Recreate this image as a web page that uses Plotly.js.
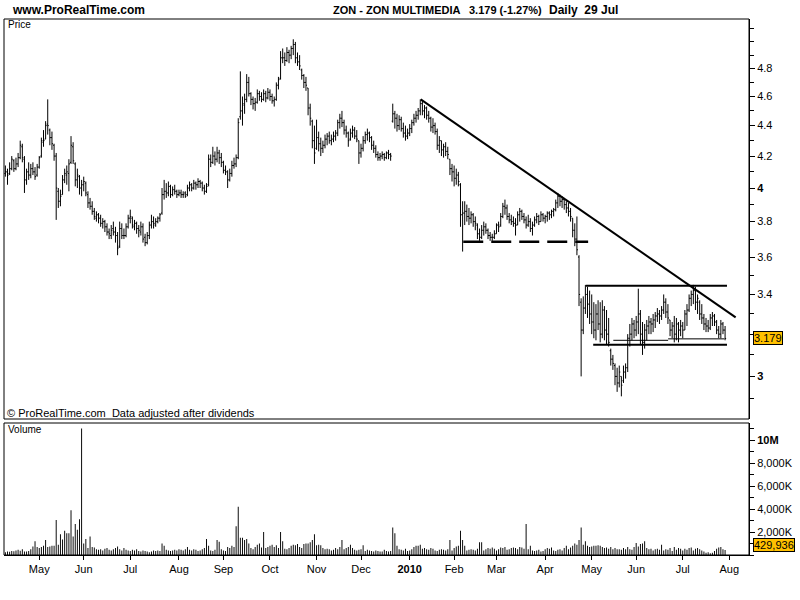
<!DOCTYPE html>
<html><head><meta charset="utf-8">
<script src="https://cdn.plot.ly/plotly-3.0.1.min.js"></script>
<style>html,body{margin:0;padding:0;background:#fff}#chart{width:800px;height:600px}</style>
</head><body><div id="chart"></div>
<script>
// ZON - ZON MULTIMEDIA, daily bars from 2009-04-09 to 2010-07-29 (weekdays)
const startDate = "2009-04-09";

const openP = [
4.09,4.10,4.09,4.12,4.17,4.12,4.15,4.19,4.26,4.18,
4.05,4.10,4.08,4.12,4.10,4.08,4.13,4.20,4.29,4.31,
4.41,4.37,4.32,4.27,4.20,3.98,3.92,3.96,4.05,4.08,
4.09,4.16,4.26,4.15,4.05,4.07,4.00,4.02,4.03,3.96,
3.91,3.89,3.86,3.82,3.84,3.82,3.79,3.80,3.77,3.74,
3.72,3.76,3.74,3.72,3.66,3.76,3.72,3.72,3.77,3.82,
3.82,3.77,3.79,3.76,3.74,3.77,3.71,3.68,3.72,3.78,
3.80,3.78,3.80,3.82,3.85,3.96,3.98,3.97,4.01,3.96,
3.99,3.98,3.96,3.97,3.96,3.97,3.96,4.00,4.02,4.00,
4.03,4.02,4.04,4.03,4.00,3.98,4.02,4.18,4.16,4.20,
4.18,4.22,4.19,4.16,4.11,4.10,4.05,4.09,4.14,4.15,
4.19,4.46,4.50,4.54,4.58,4.70,4.62,4.58,4.55,4.56,
4.62,4.60,4.58,4.62,4.59,4.63,4.60,4.57,4.58,4.68,
4.73,4.88,4.88,4.86,4.92,4.90,4.95,4.98,4.88,4.85,
4.79,4.75,4.70,4.66,4.52,4.43,4.30,4.25,4.32,4.28,
4.25,4.27,4.31,4.33,4.30,4.31,4.33,4.35,4.42,4.45,
4.42,4.37,4.35,4.31,4.35,4.37,4.33,4.30,4.22,4.25,
4.30,4.34,4.35,4.32,4.27,4.25,4.21,4.19,4.20,4.21,
4.19,4.22,4.21,4.43,4.48,4.45,4.40,4.44,4.38,4.35,
4.33,4.35,4.38,4.42,4.45,4.47,4.50,4.55,4.50,4.52,
4.47,4.45,4.39,4.40,4.36,4.27,4.30,4.24,4.26,4.23,
4.18,4.12,4.10,4.06,4.08,4.02,3.84,3.85,3.86,3.83,
3.82,3.84,3.80,3.78,3.73,3.71,3.75,3.77,3.75,3.72,
3.71,3.71,3.73,3.78,3.78,3.83,3.89,3.88,3.83,3.81,
3.80,3.79,3.78,3.84,3.86,3.83,3.81,3.78,3.80,3.76,
3.78,3.81,3.83,3.80,3.84,3.82,3.83,3.85,3.84,3.86,
3.87,3.91,3.95,3.92,3.93,3.90,3.88,3.86,3.82,3.75,
3.70,3.60,3.36,3.22,3.33,3.40,3.35,3.30,3.26,3.22,
3.30,3.25,3.20,3.32,3.22,3.20,3.12,3.08,3.05,3.00,
2.97,3.00,2.98,3.02,3.04,3.18,3.20,3.25,3.22,3.26,
3.30,3.20,3.16,3.22,3.24,3.26,3.25,3.27,3.29,3.30,
3.29,3.32,3.36,3.31,3.27,3.22,3.24,3.20,3.25,3.22,
3.24,3.22,3.30,3.32,3.38,3.40,3.42,3.36,3.36,3.30,
3.28,3.25,3.24,3.23,3.28,3.29,3.26,3.22,3.20,3.25,
3.22];

const highP = [
4.14,4.12,4.16,4.20,4.18,4.19,4.22,4.30,4.28,4.20,
4.12,4.16,4.15,4.16,4.13,4.15,4.20,4.32,4.37,4.43,
4.58,4.38,4.36,4.28,4.22,4.00,3.99,4.08,4.12,4.14,
4.18,4.33,4.29,4.16,4.12,4.08,4.05,4.07,4.04,3.98,
3.94,3.92,3.88,3.86,3.85,3.84,3.82,3.81,3.79,3.76,
3.78,3.80,3.77,3.74,3.80,3.79,3.76,3.79,3.84,3.87,
3.83,3.81,3.80,3.78,3.80,3.79,3.73,3.74,3.80,3.84,
3.83,3.82,3.83,3.85,4.00,4.05,4.03,4.04,4.02,4.01,
4.02,3.99,3.99,3.99,3.98,3.98,4.02,4.04,4.03,4.05,
4.04,4.06,4.05,4.04,4.02,4.03,4.21,4.21,4.26,4.23,
4.26,4.24,4.22,4.17,4.14,4.11,4.12,4.17,4.19,4.21,
4.45,4.78,4.60,4.62,4.76,4.74,4.63,4.60,4.59,4.65,
4.64,4.63,4.65,4.64,4.66,4.65,4.62,4.60,4.70,4.74,
4.93,4.95,4.92,4.96,4.94,4.97,5.02,5.00,4.92,4.90,
4.80,4.76,4.74,4.66,4.55,4.44,4.40,4.44,4.36,4.32,
4.30,4.34,4.35,4.36,4.34,4.36,4.37,4.44,4.48,4.50,
4.44,4.40,4.36,4.38,4.40,4.39,4.37,4.30,4.28,4.33,
4.36,4.38,4.36,4.33,4.30,4.27,4.23,4.22,4.23,4.22,
4.23,4.24,4.22,4.55,4.50,4.48,4.47,4.46,4.42,4.40,
4.38,4.41,4.44,4.48,4.50,4.52,4.58,4.57,4.54,4.53,
4.50,4.46,4.45,4.42,4.38,4.33,4.30,4.28,4.29,4.26,
4.18,4.15,4.14,4.12,4.10,4.03,3.92,3.92,3.90,3.88,
3.86,3.85,3.83,3.79,3.76,3.78,3.80,3.79,3.76,3.74,
3.73,3.75,3.79,3.80,3.85,3.91,3.93,3.90,3.85,3.84,
3.83,3.82,3.86,3.88,3.87,3.85,3.83,3.84,3.82,3.80,
3.83,3.85,3.84,3.86,3.85,3.84,3.86,3.86,3.87,3.88,
3.93,3.97,3.96,3.95,3.94,3.92,3.91,3.88,3.82,3.79,
3.83,3.61,3.38,3.39,3.45,3.44,3.42,3.40,3.36,3.35,
3.37,3.36,3.37,3.34,3.32,3.28,3.13,3.10,3.06,3.04,
3.05,3.00,3.05,3.06,3.20,3.25,3.28,3.27,3.29,3.43,
3.32,3.26,3.25,3.27,3.29,3.28,3.30,3.31,3.33,3.32,
3.34,3.40,3.38,3.35,3.27,3.26,3.29,3.28,3.26,3.27,
3.26,3.32,3.35,3.40,3.42,3.45,3.44,3.40,3.37,3.35,
3.30,3.28,3.27,3.30,3.31,3.30,3.27,3.24,3.27,3.26,
3.24];

const lowP = [
4.07,4.02,4.08,4.11,4.10,4.11,4.13,4.18,4.16,3.97,
4.02,4.05,4.06,4.08,4.05,4.07,4.12,4.19,4.26,4.31,
4.34,4.27,4.24,4.17,3.81,3.88,3.89,3.96,4.03,4.02,
3.98,4.15,4.15,4.01,4.00,3.96,3.95,3.98,3.95,3.88,
3.87,3.84,3.81,3.80,3.79,3.77,3.76,3.74,3.72,3.70,
3.70,3.72,3.68,3.61,3.65,3.70,3.70,3.71,3.76,3.79,
3.76,3.75,3.73,3.71,3.72,3.68,3.66,3.67,3.70,3.76,
3.76,3.77,3.79,3.80,3.84,3.93,3.94,3.95,3.94,3.95,
3.96,3.94,3.95,3.94,3.94,3.94,3.95,3.98,3.98,3.99,
3.99,4.00,4.00,3.98,3.96,3.97,4.01,4.13,4.15,4.14,
4.16,4.15,4.13,4.09,4.08,4.00,4.04,4.07,4.12,4.13,
4.18,4.44,4.40,4.48,4.56,4.60,4.54,4.51,4.50,4.55,
4.57,4.56,4.57,4.56,4.58,4.57,4.55,4.53,4.57,4.65,
4.72,4.84,4.82,4.85,4.84,4.87,4.90,4.84,4.82,4.79,
4.72,4.66,4.64,4.47,4.40,4.25,4.15,4.24,4.23,4.20,
4.22,4.25,4.27,4.28,4.27,4.29,4.30,4.33,4.38,4.39,
4.34,4.32,4.26,4.30,4.32,4.31,4.29,4.15,4.19,4.23,
4.28,4.30,4.29,4.24,4.22,4.19,4.17,4.17,4.18,4.17,
4.18,4.18,4.17,4.42,4.38,4.36,4.37,4.36,4.32,4.30,
4.31,4.33,4.35,4.40,4.42,4.44,4.47,4.47,4.45,4.44,
4.42,4.36,4.35,4.34,4.24,4.22,4.20,4.19,4.20,4.18,
4.08,4.04,4.01,4.02,4.01,3.77,3.63,3.78,3.80,3.78,
3.79,3.77,3.75,3.70,3.69,3.70,3.72,3.73,3.70,3.69,
3.69,3.70,3.73,3.74,3.77,3.82,3.84,3.81,3.79,3.78,
3.77,3.72,3.78,3.80,3.81,3.79,3.76,3.77,3.74,3.72,
3.77,3.79,3.78,3.80,3.80,3.79,3.80,3.81,3.82,3.83,
3.86,3.88,3.89,3.88,3.87,3.85,3.83,3.80,3.71,3.66,
3.61,3.34,3.00,3.20,3.30,3.28,3.25,3.20,3.18,3.17,
3.22,3.16,3.18,3.17,3.15,3.14,3.05,3.03,2.96,2.93,
2.95,2.91,2.97,2.99,3.02,3.14,3.17,3.18,3.19,3.20,
3.15,3.10,3.13,3.17,3.20,3.20,3.21,3.23,3.26,3.25,
3.27,3.30,3.28,3.25,3.19,3.18,3.16,3.17,3.16,3.19,
3.18,3.22,3.24,3.31,3.34,3.35,3.32,3.30,3.27,3.25,
3.22,3.21,3.21,3.22,3.24,3.24,3.20,3.18,3.18,3.20,
3.17];

const closeP = [
4.10,4.08,4.12,4.18,4.12,4.15,4.19,4.27,4.19,4.05,
4.10,4.08,4.12,4.10,4.07,4.13,4.19,4.30,4.30,4.40,
4.40,4.32,4.28,4.20,4.00,3.92,3.95,4.05,4.09,4.10,
4.15,4.27,4.17,4.05,4.08,4.00,4.02,4.04,3.97,3.91,
3.89,3.86,3.83,3.84,3.82,3.79,3.80,3.77,3.74,3.73,
3.75,3.74,3.72,3.65,3.76,3.72,3.72,3.77,3.82,3.83,
3.78,3.79,3.76,3.75,3.77,3.70,3.68,3.72,3.78,3.80,
3.79,3.80,3.82,3.84,3.96,3.98,3.97,4.01,3.96,3.99,
3.98,3.96,3.97,3.96,3.96,3.95,4.00,4.02,4.00,4.03,
4.02,4.04,4.03,4.00,3.98,4.01,4.18,4.16,4.20,4.18,
4.22,4.19,4.16,4.11,4.10,4.05,4.09,4.14,4.15,4.19,
4.42,4.50,4.55,4.58,4.70,4.62,4.58,4.55,4.56,4.62,
4.60,4.58,4.62,4.59,4.63,4.60,4.57,4.58,4.68,4.72,
4.88,4.88,4.86,4.92,4.90,4.95,4.98,4.88,4.85,4.82,
4.75,4.70,4.68,4.52,4.45,4.30,4.22,4.32,4.28,4.25,
4.27,4.31,4.33,4.30,4.31,4.33,4.35,4.42,4.45,4.42,
4.37,4.35,4.30,4.35,4.37,4.33,4.31,4.22,4.25,4.30,
4.34,4.35,4.32,4.27,4.25,4.21,4.19,4.20,4.21,4.19,
4.22,4.21,4.20,4.48,4.45,4.40,4.44,4.38,4.35,4.33,
4.35,4.38,4.42,4.45,4.47,4.50,4.55,4.50,4.52,4.47,
4.45,4.39,4.40,4.36,4.27,4.30,4.24,4.26,4.23,4.21,
4.12,4.10,4.06,4.08,4.04,3.84,3.85,3.86,3.83,3.82,
3.84,3.80,3.79,3.73,3.71,3.75,3.77,3.75,3.72,3.71,
3.71,3.73,3.78,3.77,3.83,3.89,3.88,3.83,3.81,3.80,
3.79,3.78,3.84,3.86,3.83,3.81,3.78,3.80,3.76,3.78,
3.81,3.83,3.80,3.84,3.82,3.83,3.85,3.84,3.86,3.87,
3.91,3.95,3.92,3.93,3.90,3.88,3.86,3.83,3.75,3.70,
3.64,3.40,3.22,3.33,3.40,3.35,3.30,3.26,3.22,3.30,
3.25,3.20,3.32,3.22,3.20,3.16,3.08,3.06,3.00,2.97,
3.02,2.96,3.02,3.04,3.18,3.20,3.25,3.22,3.26,3.30,
3.20,3.16,3.22,3.24,3.26,3.25,3.27,3.29,3.30,3.29,
3.32,3.36,3.31,3.28,3.22,3.24,3.20,3.25,3.22,3.24,
3.22,3.30,3.32,3.38,3.40,3.42,3.36,3.38,3.30,3.28,
3.25,3.24,3.23,3.28,3.29,3.26,3.22,3.20,3.25,3.22,
3.179];

// volume in thousands of shares
const volumeK = [
250,300,280,350,320,400,450,380,500,300,
300,350,500,750,1200,700,600,700,800,1300,
700,750,800,800,3050,900,1800,1350,2100,1900,
1900,3900,1600,2700,2200,3100,11000,1000,1400,600,
1600,700,650,500,450,500,400,550,600,450,
400,500,600,750,500,400,600,450,400,350,
450,400,500,350,300,400,350,300,250,300,
400,350,400,350,1000,800,450,400,350,400,
450,400,500,450,400,500,700,450,400,500,
450,350,400,500,600,1400,800,400,350,450,
1300,1150,500,400,350,700,600,800,700,2500,
4200,1500,1500,1300,1400,1000,600,500,700,900,
1000,650,2000,600,700,800,900,700,850,600,
2000,1200,550,500,600,800,900,850,950,700,
600,950,1000,1000,1100,1300,1800,850,900,850,
600,500,550,500,400,450,600,500,700,1300,
500,600,700,900,600,450,400,450,500,850,
350,450,400,350,300,400,350,300,300,450,
350,300,350,2400,1900,800,500,450,400,550,
350,400,500,700,800,800,900,550,600,500,
450,600,550,400,350,450,500,450,400,500,
1300,400,600,750,800,2100,1300,800,400,450,
500,450,400,550,1100,1100,400,500,600,550,
650,550,400,500,650,600,700,450,500,600,
650,600,500,700,650,550,2700,500,800,400,
350,400,450,300,350,500,600,550,650,400,
350,450,500,400,600,800,500,650,800,1000,
900,1300,2400,900,1200,800,700,750,800,800,
850,800,700,600,650,550,700,500,600,500,
500,450,600,500,700,500,450,700,1050,750,
950,1000,1200,600,500,550,400,500,550,450,
900,400,500,450,600,350,700,450,600,550,
400,550,450,600,650,400,550,600,500,400,
300,200,250,150,200,350,550,650,700,500,
429.936];

// month tick labels (first trading day of each month)
const monthLabels = ["May","Jun","Jul","Aug","Sep","Oct","Nov","Dec","<b>2010</b>","Feb","Mar","Apr","May","Jun","Jul","Aug"];
const priceTicks = [3,3.4,3.6,3.8,4,4.2,4.4,4.6,4.8];
const priceTickText = ["<b>3</b>","3.4","3.6","3.8","<b>4</b>","4.2","4.4","4.6","4.8"];
const priceMinor = [2.9,3.0,3.1,3.2,3.3,3.4,3.5,3.6,3.7,3.8,3.9,4.0,4.1,4.2,4.3,4.4,4.5,4.6,4.7,4.8,4.9,5.0,5.1];
const volTicks = [2000,4000,6000,8000,10000];
const volTickText = ["2,000K","4,000K","6,000K","8,000K","<b>10M</b>"];

// drawn lines (bar index, price)
const trendX = [196.2, 345.0], trendY = [4.58, 3.283];
const dashX = [216.3, 275.3], dashY = [3.685, 3.685];
const resX = [274.3, 340.9], resY = [3.446, 3.446];
const supX = [277.7, 340.9], supY = [3.149, 3.149];
const thin1X = [287.2, 313.1], thin1Y = [3.170, 3.170];
const thin2X = [313.1, 339.7], thin2Y = [3.177, 3.177];

// trading calendar (weekdays)
function weekdays(start, n) {
  const out = []; const d = new Date(start + "T00:00:00Z");
  while (out.length < n) { const wd = d.getUTCDay(); if (wd !== 0 && wd !== 6) out.push(new Date(d)); d.setUTCDate(d.getUTCDate() + 1); }
  return out;
}
const cal = weekdays(startDate, 360);
const tickIdx = [];
for (let i = 1; i < cal.length && tickIdx.length < monthLabels.length; i++) {
  if (cal[i].getUTCMonth() !== cal[i-1].getUTCMonth()) tickIdx.push(i);
}
const idx = closeP.map((_, i) => i);
const N = closeP.length;

const FONT = "Liberation Sans, Arial, Helvetica, sans-serif";
const blk = "#000";
function lineTrace(x, y, w, dash) {
  return {type:"scatter", mode:"lines", x:x, y:y, xaxis:"x", yaxis:"y", hoverinfo:"skip", showlegend:false,
          line:{color:blk, width:w, dash:dash||"solid"}};
}

const traces = [
  {type:"ohlc", x:idx, open:openP, high:highP, low:lowP, close:closeP, xaxis:"x", yaxis:"y",
   increasing:{line:{color:blk, width:1}}, decreasing:{line:{color:blk, width:1}},
   tickwidth:0.5, hoverinfo:"skip", showlegend:false},
  {type:"bar", x:idx, y:volumeK, xaxis:"x", yaxis:"y2", width:0.45,
   marker:{color:blk, line:{width:0}}, hoverinfo:"skip", showlegend:false},
  lineTrace(trendX, trendY, 2),
  lineTrace(dashX, dashY, 2.5, "20px,8px"),
  lineTrace(resX, resY, 2),
  lineTrace(supX, supY, 2),
  lineTrace(thin1X, thin1Y, 1),
  lineTrace(thin2X, thin2Y, 1)
];

const W = 800, H = 600, mL = 4, mR = 51, mT = 19, mB = 45;
const pw = W - mL - mR, ph = H - mT - mB;
const px = v => (v - mL) / pw;          // page px -> paper x
const py = v => (H - mB - v) / ph;      // page px -> paper y
const priceDom = [py(419), 1];
const volDom = [0, py(423)];

const layout = {
  width:W, height:H, margin:{l:mL, r:mR, t:mT, b:mB, pad:0},
  paper_bgcolor:"#fff", plot_bgcolor:"#fff", showlegend:false, hovermode:false,
  font:{family:FONT, size:11, color:blk},
  xaxis:{domain:[0,1], anchor:"y2", range:[-0.66, 351.3], rangeslider:{visible:false},
         tickmode:"array", tickvals:tickIdx, ticktext:monthLabels, ticks:"outside", ticklen:4, tickcolor:blk,
         showline:true, linecolor:blk, linewidth:1, showgrid:false, zeroline:false,
         tickfont:{family:FONT, size:11, color:blk}},
  yaxis:{domain:priceDom, anchor:"x", side:"right", type:"log", range:[Math.log10(2.811), Math.log10(5.178)],
         tickmode:"array", tickvals:priceTicks, ticktext:priceTickText, ticks:"outside", ticklen:5, tickcolor:blk,
         minor:{tickmode:"array", tickvals:priceMinor, ticks:"outside", ticklen:4, tickcolor:blk, showgrid:false},
         showline:true, linecolor:blk, linewidth:1, showgrid:false, zeroline:false,
         tickfont:{family:FONT, size:11, color:blk}},
  yaxis2:{domain:volDom, anchor:"x", side:"right", range:[0, 11480],
         tickmode:"array", tickvals:volTicks, ticktext:volTickText, ticks:"outside", ticklen:5, tickcolor:blk,
         minor:{dtick:1000, ticks:"outside", ticklen:4, tickcolor:blk, showgrid:false},
         showline:true, linecolor:blk, linewidth:1, showgrid:false, zeroline:false,
         tickfont:{family:FONT, size:11, color:blk}},
  shapes:[
    {type:"rect", xref:"paper", yref:"paper", x0:0, x1:1, y0:priceDom[0], y1:1, line:{color:blk, width:1}},
    {type:"rect", xref:"paper", yref:"paper", x0:0, x1:1, y0:volDom[0], y1:volDom[1], line:{color:blk, width:1}}
  ],
  annotations:[
    {xref:"paper", yref:"paper", x:px(10), y:py(10), xanchor:"left", yanchor:"middle", showarrow:false,
     text:"<b>www.ProRealTime.com</b>", font:{family:FONT, size:12, color:blk}},
    {xref:"paper", yref:"paper", x:px(331), y:py(10), xanchor:"left", yanchor:"middle", showarrow:false,
     text:"<b>ZON - ZON MULTIMEDIA</b>", font:{family:FONT, size:11, color:blk}},
    {xref:"paper", yref:"paper", x:px(467), y:py(10), xanchor:"left", yanchor:"middle", showarrow:false,
     text:"<b>" + closeP[N-1].toFixed(3) + " (-1.27%)</b>", font:{family:FONT, size:11, color:blk}},
    {xref:"paper", yref:"paper", x:px(547), y:py(10), xanchor:"left", yanchor:"middle", showarrow:false,
     text:"<b>Daily  29 Jul</b>", font:{family:FONT, size:12, color:blk}},
    {xref:"paper", yref:"paper", x:px(6), y:py(25), xanchor:"left", yanchor:"middle", showarrow:false,
     text:"Price", font:{family:FONT, size:10, color:blk}},
    {xref:"paper", yref:"paper", x:px(5), y:py(413), xanchor:"left", yanchor:"middle", showarrow:false,
     text:"© ProRealTime.com  Data adjusted after dividends", font:{family:FONT, size:11, color:blk}},
    {xref:"paper", yref:"paper", x:px(6), y:py(429), xanchor:"left", yanchor:"middle", showarrow:false,
     text:"Volume", font:{family:FONT, size:10, color:blk}},
    {xref:"paper", yref:"y", x:1, xshift:4, y:Math.log10(closeP[N-1]), xanchor:"left", yanchor:"middle", showarrow:false,
     text:closeP[N-1].toFixed(3), font:{family:FONT, size:11, color:blk},
     bgcolor:"#FFC000", bordercolor:blk, borderwidth:1, borderpad:0},
    {xref:"paper", yref:"y2", x:1, xshift:4, y:volumeK[N-1], yshift:5, xanchor:"left", yanchor:"middle", showarrow:false,
     text:Math.round(volumeK[N-1]*1000).toLocaleString("en-US"), font:{family:FONT, size:11, color:blk},
     bgcolor:"#FFC000", bordercolor:blk, borderwidth:1, borderpad:0}
  ]
};

Plotly.newPlot("chart", traces, layout, {staticPlot:true, displayModeBar:false});
</script>
</body></html>
